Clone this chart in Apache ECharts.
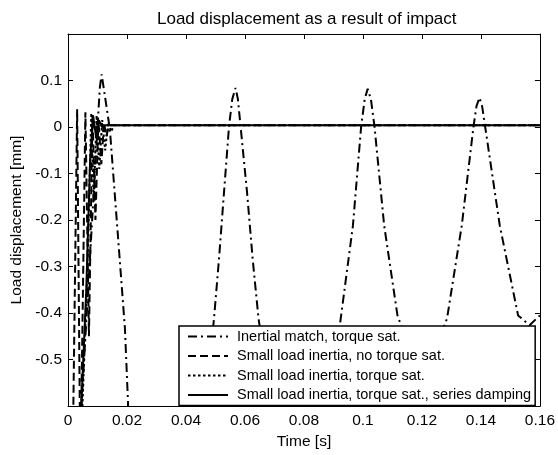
<!DOCTYPE html>
<html>
<head>
<meta charset="utf-8">
<script src="https://cdn.jsdelivr.net/npm/echarts@6/dist/echarts.min.js"></script>
<style>
  html, body { margin: 0; padding: 0; background: #fff; }
  #chart { width: 558px; height: 455px; }
</style>
</head>
<body>
<div id="chart"></div>
<script>
// time [s] / displacement [mm]; values beyond the y range are clipped
const tInertial = [0, 0.0100, 0.0108, 0.0114, 0.0122, 0.0142, 0.0159, 0.0176, 0.0193, 0.0204, 0.033,
  0.0465, 0.0495, 0.0512, 0.0529, 0.0546, 0.0557, 0.0568, 0.0576, 0.0585, 0.0607, 0.0626, 0.0646, 0.0691, 0.079,
  0.0887, 0.0926, 0.0966, 0.0994, 0.1006, 0.1016, 0.1027, 0.1039, 0.1072, 0.1117, 0.1202,
  0.1285, 0.1335, 0.1375, 0.1385, 0.1395, 0.1404, 0.1414, 0.1464, 0.1526, 0.1565, 0.1600];
const yInertial = [-1.1, 0.0, 0.085, 0.113, 0.08, -0.005, -0.148, -0.29, -0.433, -0.6, -1.2,
  -0.597, -0.412, -0.283, -0.14, 0.002, 0.06, 0.084, 0.06, 0.002, -0.14, -0.283, -0.412, -0.597, -0.75,
  -0.6, -0.405, -0.212, 0.002, 0.06, 0.082, 0.06, 0.002, -0.212, -0.405, -0.55,
  -0.412, -0.212, 0.002, 0.045, 0.063, 0.045, 0.002, -0.212, -0.405, -0.426, -0.405];

const tNoSat = [0, 0.0031, 0.0042, 0.0059, 0.0071, 0.0083, 0.0093, 0.0103, 0.0113, 0.0122, 0.0130, 0.0140, 0.1600];
const yNoSat = [-1.5, 0.038, -0.75, 0.032, -0.45, 0.025, -0.2, 0.015, -0.08, 0.01, -0.02, 0.004, 0.004];

const tSat = [0, 0.0049, 0.0066, 0.0079, 0.0087, 0.0097, 0.0106, 0.0116, 0.0126, 0.0136, 0.0146, 0.0156, 0.1600];
const ySat = [-1.6, -0.6, -0.3, 0.03, -0.16, 0.025, -0.09, 0.015, -0.05, 0.01, -0.01, 0.004, 0.004];

const tDamp = [0, 0.0045, 0.0062, 0.0075, 0.0085, 0.0095, 0.0105, 0.0115, 0.0130, 0.1600];
const yDamp = [-2.0, -0.6, -0.35, -0.07, 0.025, -0.02, 0.015, 0.0, 0.004, 0.004];

const names = [
  'Inertial match, torque sat.',
  'Small load inertia, no torque sat.',
  'Small load inertia, torque sat.',
  'Small load inertia, torque sat., series damping'
];

const zip = (xs, ys) => xs.map((x, i) => [x, ys[i]]);

const font = 'Liberation Sans, Arial, Helvetica, sans-serif';

const lineSeries = (name, data, dash) => ({
  name: name,
  type: 'line',
  data: data,
  symbol: 'none',
  clip: true,
  lineStyle: { color: '#000', width: 2, type: dash },
  itemStyle: { color: '#000' }
});

const axisBase = {
  type: 'value',
  axisLine: { show: true, onZero: false, lineStyle: { color: '#000', width: 1 } },
  axisTick: { show: true, inside: true, length: 5, lineStyle: { color: '#000' } },
  splitLine: { show: false }
};

const chart = echarts.init(document.getElementById('chart'));
chart.setOption({
  animation: false,
  backgroundColor: '#fff',
  title: {
    text: 'Load displacement as a result of impact',
    left: 152,
    top: 6,
    textStyle: { fontFamily: font, fontSize: 17, fontWeight: 'normal', color: '#000' }
  },
  grid: { left: 68, top: 34, width: 476, height: 374.5 },
  legend: {
    orient: 'vertical',
    left: 179,
    top: 326,
    padding: [3, 4, 3, 8],
    itemGap: 4.5,
    itemWidth: 40,
    itemHeight: 14,
    backgroundColor: '#fff',
    borderColor: '#000',
    borderWidth: 1.5,
    itemStyle: { opacity: 0 },
    lineStyle: { width: 2 },
    textStyle: { fontFamily: font, fontSize: 14.5, color: '#000', lineHeight: 14, padding: [0, 0, 0, 4] },
    data: names
  },
  xAxis: [
    Object.assign({}, axisBase, {
      position: 'bottom', min: 0, max: 0.16, interval: 0.02,
      name: 'Time [s]', nameLocation: 'middle', nameGap: 25,
      nameTextStyle: { fontFamily: font, fontSize: 15.5, color: '#000' },
      axisLabel: { fontFamily: font, fontSize: 15.5, color: '#000', margin: 7 }
    }),
    Object.assign({}, axisBase, {
      position: 'top', min: 0, max: 0.16, interval: 0.02,
      axisLabel: { show: false }
    })
  ],
  yAxis: [
    Object.assign({}, axisBase, {
      position: 'left', min: -0.6, max: 0.2, interval: 0.1,
      name: 'Load displacement [mm]', nameLocation: 'middle', nameGap: 31,
      nameTextStyle: { fontFamily: font, fontSize: 15.5, color: '#000' },
      axisLabel: { fontFamily: font, fontSize: 15.5, color: '#000', margin: 6, showMinLabel: false, showMaxLabel: false }
    }),
    Object.assign({}, axisBase, {
      position: 'right', min: -0.6, max: 0.2, interval: 0.1,
      axisLabel: { show: false }
    })
  ],
  series: [
    lineSeries(names[0], zip(tInertial, yInertial), [9, 4, 2, 4]),
    lineSeries(names[1], zip(tNoSat, yNoSat), [8, 4]),
    lineSeries(names[2], zip(tSat, ySat), [2.5, 2.5]),
    lineSeries(names[3], zip(tDamp, yDamp), 'solid')
  ]
});
</script>
</body>
</html>
